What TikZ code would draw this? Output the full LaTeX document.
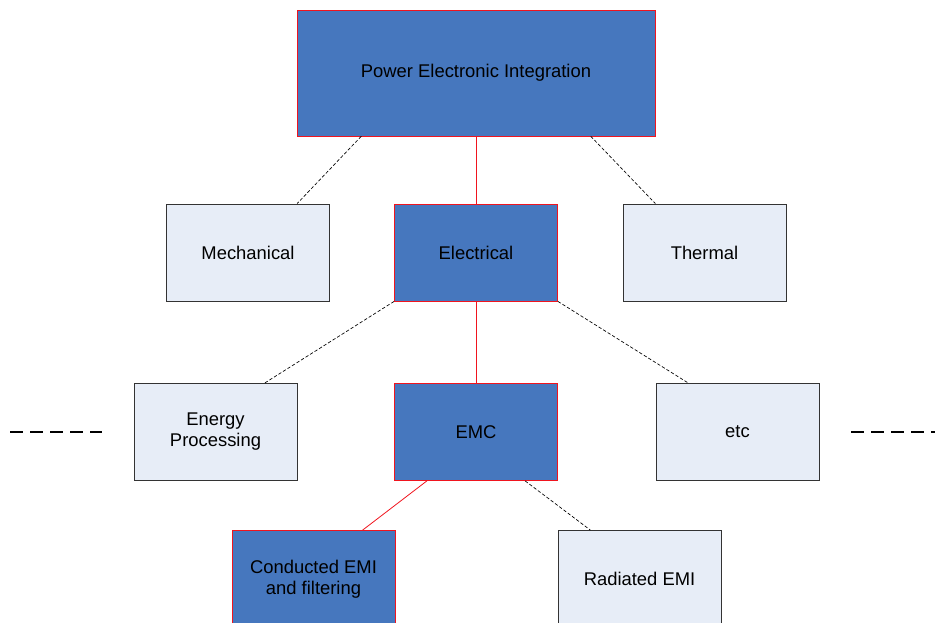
\documentclass[tikz,border=0pt]{standalone}
\usepackage{fontspec}
\setmainfont{Liberation Sans}
\usepackage{xcolor}
\usepackage{tikz}
\usetikzlibrary{calc}
\definecolor{boxblue}{RGB}{70,119,190}
\definecolor{paleblue}{RGB}{231,237,247}
\definecolor{linkred}{RGB}{240,20,30}
\begin{document}
\begin{tikzpicture}[
  x=0.75pt, y=-0.75pt,
  font=\fontsize{13.8pt}{15.8pt}\selectfont,
  box/.style={draw, inner sep=0pt, align=center, minimum width=122.5pt, minimum height=73pt},
  key/.style={box, draw=linkred, fill=boxblue},
  side/.style={box, draw=black!80, fill=paleblue},
  solidlink/.style={draw=linkred, line width=0.6pt},
  dashlink/.style={draw=black, line width=0.5pt, dash pattern=on 2.5pt off 1.5pt},
  farlink/.style={draw=black, line width=0.8pt, dash pattern=on 9.5pt off 5.5pt}
]
\useasboundingbox (0,0) rectangle (935,623);
% ---- nodes ------------------------------------------------------------------
\node[key, minimum width=268.5pt, minimum height=94.5pt] (pei) at (476,73) {Power Electronic Integration};

\node[side] (mech) at (248,252.5) {Mechanical};
\node[key] (elec) at (476,252.5) {Electrical};
\node[side] (therm) at (704.5,252.5) {Thermal};

\node[side] (energy) at (215.5,432) {Energy\\Processing};
\node[key] (emc) at (476,432) {EMC};
\node[side] (etc) at (737.5,432) {etc};

\node[key] (cond) at (313.5,579) {Conducted EMI\\and filtering};
\node[side] (rad) at (639.5,579) {Radiated EMI};

\coordinate (leftA) at (10,432);
\coordinate (leftB) at (102,432);
\coordinate (rightA) at (851,432);
\coordinate (rightB) at (940,432);

% ---- edges ------------------------------------------------------------------
\draw[solidlink] (pei.south) -- (elec.north);
\draw[solidlink] (elec.south) -- (emc.north);
\draw[solidlink] ($(emc.south west)!0.2!(emc.south east)$) -- ($(cond.north west)!0.8!(cond.north east)$);

\draw[dashlink] ($(pei.south west)!0.18!(pei.south east)$) -- ($(mech.north west)!0.8!(mech.north east)$);
\draw[dashlink] ($(pei.south west)!0.82!(pei.south east)$) -- ($(therm.north west)!0.2!(therm.north east)$);
\draw[dashlink] (elec.south west) -- ($(energy.north west)!0.8!(energy.north east)$);
\draw[dashlink] (elec.south east) -- ($(etc.north west)!0.2!(etc.north east)$);
\draw[dashlink] ($(emc.south west)!0.8!(emc.south east)$) -- ($(rad.north west)!0.2!(rad.north east)$);

\draw[farlink] (leftA) -- (leftB);
\draw[farlink] (rightA) -- (rightB);
\end{tikzpicture}
\end{document}
